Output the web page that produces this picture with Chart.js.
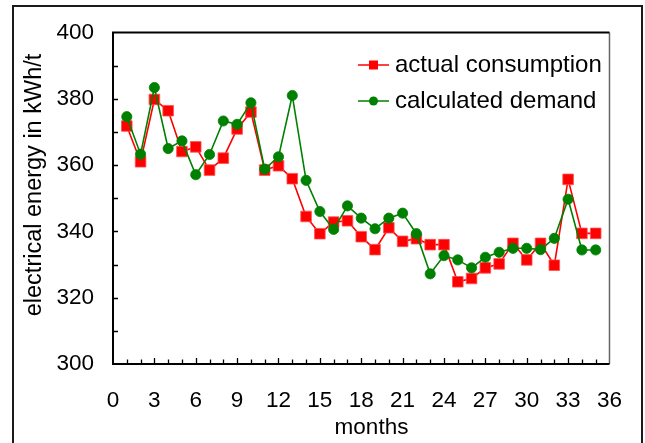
<!DOCTYPE html>
<html>
<head>
    <title>Electrical energy per month</title>
    <script src="https://cdnjs.cloudflare.com/ajax/libs/Chart.js/4.4.0/chart.umd.min.js"></script>
    <style>
        body { margin: 0; background: #fff; }
        canvas { display: block; }
    </style>
</head>
<body>
    <canvas id="myChart" width="645" height="443"></canvas>

    <script>
        const months = [1, 2, 3, 4, 5, 6, 7, 8, 9, 10, 11, 12, 13, 14, 15, 16, 17, 18,
            19, 20, 21, 22, 23, 24, 25, 26, 27, 28, 29, 30, 31, 32, 33, 34, 35];
        const actualConsumption = [371.8, 361.0, 379.8, 376.4, 364.1, 365.5, 358.5, 362.1, 370.9, 376.0,
            358.5, 359.8, 355.9, 344.5, 339.3, 342.8, 343.2, 338.4, 334.5, 341.1,
            337.0, 337.8, 336.0, 336.0, 324.8, 325.8, 329.0, 330.2, 336.4, 331.4,
            336.4, 329.8, 355.7, 339.4, 339.4];
        const calculatedDemand = [374.6, 363.3, 383.4, 365.0, 367.3, 357.1, 363.2, 373.3, 372.3, 378.8,
            358.8, 362.5, 381.0, 355.4, 346.0, 340.6, 347.7, 344.0, 340.8, 344.0,
            345.5, 339.3, 327.2, 332.7, 331.4, 329.0, 332.2, 333.7, 334.9, 334.9,
            334.5, 337.9, 349.7, 334.4, 334.4];
        const seriesNames = ['actual consumption', 'calculated demand'];
        const xTitle = 'months';
        const yTitle = 'electrical energy in kWh/t';

        const RED = '#ff0000';
        const GREEN = '#008000';
        const FONT = "'Liberation Sans', Arial, sans-serif";

        // frame, inward ticks, axis titles and legend
        const decorations = {
            id: 'decorations',
            beforeDatasetsDraw(chart) {
                const ctx = chart.ctx;
                const a = chart.chartArea;
                const xs = chart.scales.x, ys = chart.scales.y;
                ctx.save();

                // outer frame
                ctx.strokeStyle = '#1a1a1a';
                ctx.lineWidth = 2;
                ctx.beginPath();
                ctx.moveTo(13, 443);
                ctx.lineTo(13, 6);
                ctx.lineTo(642, 6);
                ctx.lineTo(642, 443);
                ctx.stroke();

                // plot box
                ctx.strokeStyle = '#666';
                ctx.lineWidth = 1.5;
                ctx.beginPath();
                ctx.moveTo(a.right, a.top);
                ctx.lineTo(a.right, a.bottom);
                ctx.stroke();
                ctx.strokeStyle = '#000';
                ctx.lineWidth = 2;
                ctx.beginPath();
                ctx.moveTo(a.right, a.top);
                ctx.lineTo(a.left, a.top);
                ctx.lineTo(a.left, a.bottom);
                ctx.lineTo(a.right, a.bottom);
                ctx.stroke();

                // inward ticks
                ctx.lineWidth = 1.3;
                ctx.beginPath();
                for (let m = 1; m < 36; m++) {
                    const px = Math.round(xs.getPixelForValue(m)) + 0.5;
                    const len = m % 3 === 0 ? 6 : 4.5;
                    ctx.moveTo(px, a.bottom);
                    ctx.lineTo(px, a.bottom - len);
                }
                for (let v = 310; v < 400; v += 10) {
                    const py = Math.round(ys.getPixelForValue(v)) + 0.5;
                    ctx.moveTo(a.left, py);
                    ctx.lineTo(a.left + 5, py);
                }
                ctx.stroke();

                // axis titles
                ctx.fillStyle = '#000';
                ctx.font = '22.5px ' + FONT;
                ctx.textAlign = 'center';
                ctx.textBaseline = 'alphabetic';
                ctx.fillText(xTitle, 371.5, 434);

                ctx.translate(34.5, 185);
                ctx.rotate(-Math.PI / 2);
                ctx.font = '23.5px ' + FONT;
                ctx.textBaseline = 'middle';
                ctx.fillText(yTitle, 0, 0);
                ctx.restore();
            },
            afterDraw(chart) {
                const ctx = chart.ctx;
                ctx.save();
                const rows = [
                    { y: 65, base: 72.3, color: RED, shape: 'rect' },
                    { y: 101, base: 108.3, color: GREEN, shape: 'circle' }
                ];
                rows.forEach((r, i) => {
                    ctx.strokeStyle = r.color;
                    ctx.fillStyle = r.color;
                    ctx.lineWidth = 1.5;
                    ctx.beginPath();
                    ctx.moveTo(358, r.y);
                    ctx.lineTo(389, r.y);
                    ctx.stroke();
                    ctx.beginPath();
                    if (r.shape === 'rect') {
                        ctx.rect(369, r.y - 4.5, 9, 9);
                    } else {
                        ctx.arc(373.5, r.y, 4.5, 0, Math.PI * 2);
                    }
                    ctx.fill();
                    ctx.fillStyle = '#000';
                    ctx.font = '24px ' + FONT;
                    ctx.textAlign = 'left';
                    ctx.textBaseline = 'alphabetic';
                    ctx.fillText(seriesNames[i], 395, r.base);
                });
                ctx.restore();
            }
        };

        const toPoints = values => months.map((m, i) => ({ x: m, y: values[i] }));

        const ctx = document.getElementById('myChart');
        new Chart(ctx, {
            type: 'line',
            data: {
                datasets: [{
                    label: seriesNames[0],
                    data: toPoints(actualConsumption),
                    borderColor: RED,
                    backgroundColor: RED,
                    borderWidth: 1.6,
                    pointStyle: 'rect',
                    pointRadius: 7.5,
                    pointBorderWidth: 0.8,
                    pointBorderColor: '#ff5050',
                    tension: 0,
                    order: 1
                }, {
                    label: seriesNames[1],
                    data: toPoints(calculatedDemand),
                    borderColor: GREEN,
                    backgroundColor: GREEN,
                    borderWidth: 1.6,
                    pointStyle: 'circle',
                    pointRadius: 5.1,
                    pointBorderWidth: 0.8,
                    tension: 0,
                    order: 0
                }]
            },
            options: {
                responsive: false,
                animation: false,
                devicePixelRatio: 1,
                layout: {
                    padding: { left: 0, right: 19, top: 26, bottom: 0 }
                },
                plugins: {
                    legend: { display: false },
                    tooltip: { enabled: false }
                },
                scales: {
                    x: {
                        type: 'linear',
                        min: 0,
                        max: 36,
                        grid: { display: false, drawTicks: false },
                        border: { display: false },
                        ticks: {
                            stepSize: 3,
                            autoSkip: false,
                            maxRotation: 0,
                            padding: 23,
                            color: '#000',
                            font: { family: FONT, size: 22.5 }
                        },
                        afterFit(scale) { scale.height = 79; }
                    },
                    y: {
                        min: 300,
                        max: 400,
                        grid: { display: false, drawTicks: false },
                        border: { display: false },
                        ticks: {
                            stepSize: 20,
                            padding: 19,
                            color: '#000',
                            font: { family: FONT, size: 22.5 }
                        },
                        afterFit(scale) { scale.width = 113; }
                    }
                }
            },
            plugins: [decorations]
        });
    </script>
</body>
</html>
